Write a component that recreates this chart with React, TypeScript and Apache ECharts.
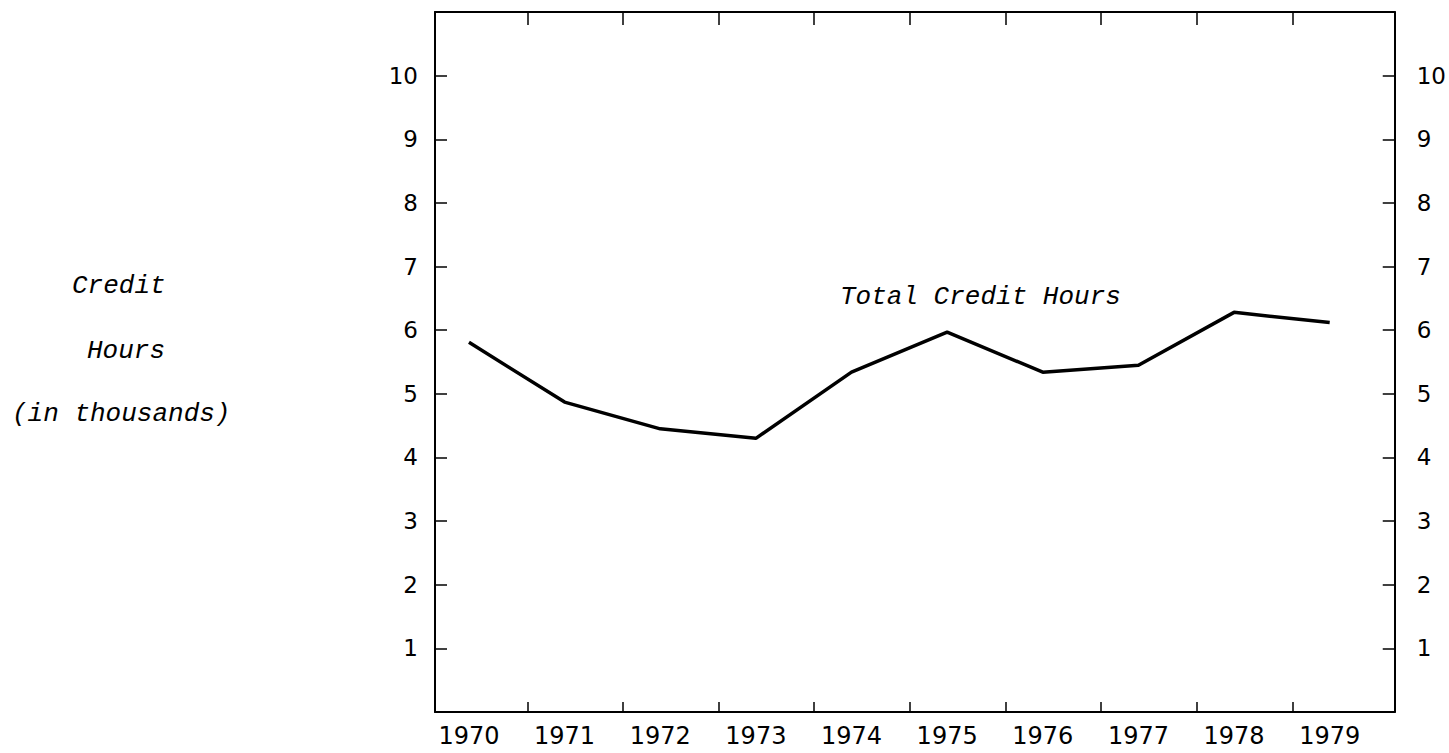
import React, { useEffect, useRef } from "react";
import * as echarts from "echarts";

const years = [1970, 1971, 1972, 1973, 1974, 1975, 1976, 1977, 1978, 1979];
const creditHours = [5.81, 4.87, 4.45, 4.3, 5.34, 5.97, 5.34, 5.45, 6.28, 6.12];
const yTickLabels = [1, 2, 3, 4, 5, 6, 7, 8, 9, 10];
const seriesLabel = "Total Credit Hours";
const yAxisTitleLines = ["Credit", "Hours", "(in thousands)"];

const TICK_OFFSET = 0.61;

export default function App() {
  const ref = useRef<HTMLDivElement>(null);
  useEffect(() => {
    if (!ref.current) return;
    const chart = echarts.init(ref.current, null, { renderer: "svg" });
    const tickVals = years.slice(0, -1).map((y) => y + TICK_OFFSET);
    const xMin = 1969.645;
    const xMax = 1979.68;
    const labelFont = "DejaVu Sans";
    const mono = "Liberation Mono";
    const axisLine = { show: true, onZero: false, lineStyle: { color: "#000", width: 2 } };
    const tickStyle = { color: "#000", width: 1.5 };
    const yLabelFmt = (v: number) => (yTickLabels.includes(v) ? String(v) : "");
    chart.setOption({
      animation: false,
      backgroundColor: "#fff",
      grid: { left: 435, right: 54, top: 12, bottom: 41 },
      xAxis: [
        {
          type: "value",
          position: "bottom",
          min: xMin,
          max: xMax,
          axisLine,
          splitLine: { show: false },
          axisTick: {
            show: true,
            inside: true,
            length: 10,
            customValues: tickVals,
            lineStyle: tickStyle,
          },
          axisLabel: {
            show: true,
            customValues: years,
            formatter: (v: number) => String(Math.round(v)),
            margin: 12,
            fontSize: 24,
            color: "#000",
            fontFamily: labelFont,
          },
        },
        {
          type: "value",
          position: "top",
          min: xMin,
          max: xMax,
          axisLine,
          splitLine: { show: false },
          axisTick: {
            show: true,
            inside: true,
            length: 13,
            customValues: tickVals,
            lineStyle: tickStyle,
          },
          axisLabel: { show: false },
        },
      ],
      yAxis: [
        {
          type: "value",
          position: "left",
          min: 0,
          max: 11,
          interval: 1,
          axisLine,
          splitLine: { show: false },
          axisTick: { show: true, inside: true, length: 12, lineStyle: tickStyle },
          axisLabel: {
            formatter: yLabelFmt,
            margin: 17,
            fontSize: 23,
            color: "#000",
            fontFamily: labelFont,
          },
        },
        {
          type: "value",
          position: "right",
          min: 0,
          max: 11,
          interval: 1,
          axisLine,
          splitLine: { show: false },
          axisTick: { show: true, inside: true, length: 12, lineStyle: tickStyle },
          axisLabel: {
            formatter: yLabelFmt,
            margin: 22,
            fontSize: 23,
            color: "#000",
            fontFamily: labelFont,
          },
        },
      ],
      series: [
        {
          type: "line",
          name: seriesLabel,
          xAxisIndex: 0,
          yAxisIndex: 0,
          data: years.map((y, i) => [y, creditHours[i]]),
          showSymbol: false,
          symbol: "none",
          lineStyle: { color: "#000", width: 3.5 },
        },
      ],
      graphic: [
        {
          type: "text",
          left: 72,
          top: 273,
          style: { text: yAxisTitleLines[0], font: `italic 26px "${mono}"`, fill: "#000" },
        },
        {
          type: "text",
          left: 87,
          top: 338,
          style: { text: yAxisTitleLines[1], font: `italic 26px "${mono}"`, fill: "#000" },
        },
        {
          type: "text",
          left: 12,
          top: 401,
          style: { text: yAxisTitleLines[2], font: `italic 26px "${mono}"`, fill: "#000" },
        },
        {
          type: "text",
          left: 840,
          top: 284,
          style: { text: seriesLabel, font: `italic 26px "${mono}"`, fill: "#000" },
        },
      ],
    });
    return () => chart.dispose();
  }, []);
  return (
    <div
      ref={ref}
      style={{ position: "absolute", left: 0, top: 0, width: 1449, height: 753 }}
    />
  );
}
